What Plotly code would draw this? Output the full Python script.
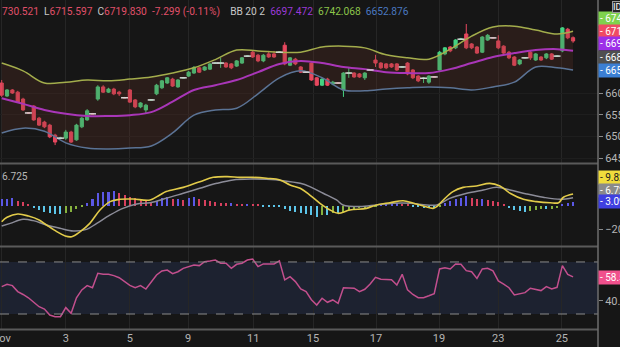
import plotly.graph_objects as go

# ---------------- data ----------------
opens = [6623, 6593, 6607, 6602, 6586, 6554, 6570, 6542, 6533, 6526, 6503, 6496, 6496, 6510, 6492, 6522, 6538, 6552,
         6586, 6614, 6602, 6609, 6602, 6589, 6607, 6584, 6568, 6561, 6584, 6598, 6612, 6623, 6632, 6614, 6635, 6639,
         6646, 6658, 6653, 6655, 6669, 6669, 6669, 6667, 6662, 6669, 6685, 6694, 6687, 6674, 6690, 6690, 6694, 6710,
         6664, 6678, 6660, 6648, 6669, 6635, 6618, 6632, 6621, 6623, 6607, 6646, 6646, 6644, 6635, 6653, 6676, 6669,
         6667, 6667, 6667, 6660, 6669, 6653, 6639, 6634, 6625, 6637, 6653, 6690, 6706, 6704, 6724, 6736, 6713, 6706,
         6694, 6722, 6727, 6720, 6708, 6694, 6683, 6667, 6681, 6694, 6676, 6683, 6681, 6690, 6685, 6697, 6747, 6727.5]
highs = [6630, 6609, 6609, 6605, 6589, 6556, 6572, 6545, 6536, 6529, 6506, 6499, 6515, 6513, 6529, 6545, 6563, 6554,
         6618, 6618, 6612, 6612, 6605, 6591, 6609, 6586, 6579, 6575, 6586, 6621, 6630, 6637, 6635, 6632, 6637, 6651,
         6662, 6660, 6662, 6669, 6671, 6681, 6671, 6669, 6676, 6683, 6687, 6697, 6690, 6690, 6697, 6697, 6696, 6717,
         6683, 6681, 6662, 6650, 6671, 6637, 6635, 6635, 6628, 6625, 6648, 6658, 6648, 6646, 6648, 6655, 6688, 6671,
         6669, 6669, 6669, 6662, 6671, 6655, 6641, 6637, 6641, 6639, 6697, 6706, 6708, 6724, 6727, 6759, 6715, 6708,
         6731, 6736, 6729, 6733, 6710, 6697, 6685, 6678, 6683, 6697, 6692, 6685, 6692, 6692, 6687, 6752, 6750, 6730.521]
lows = [6591, 6591, 6598, 6577, 6559, 6552, 6536, 6524, 6519, 6496, 6480, 6494, 6492, 6485, 6490, 6519, 6536, 6551,
        6582, 6600, 6600, 6595, 6593, 6588, 6577, 6565, 6565, 6552, 6583, 6595, 6609, 6621, 6614, 6612, 6634, 6637,
        6644, 6646, 6651, 6653, 6668, 6658, 6658, 6655, 6660, 6667, 6684, 6681, 6671, 6671, 6681, 6681, 6693, 6664,
        6662, 6664, 6646, 6647, 6628, 6616, 6616, 6616, 6618, 6622, 6591, 6635, 6635, 6635, 6630, 6652, 6660, 6655,
        6655, 6658, 6651, 6659, 6641, 6632, 6625, 6623, 6621, 6636, 6651, 6687, 6694, 6701, 6722, 6701, 6701, 6690,
        6692, 6720, 6726, 6701, 6690, 6678, 6662, 6664, 6680, 6676, 6674, 6674, 6678, 6676, 6684, 6694, 6724, 6715.597]
closes = [6595, 6607, 6600, 6579, 6561, 6554, 6538, 6526, 6522, 6499, 6487, 6496, 6510, 6487, 6526, 6542, 6559, 6552,
          6614, 6602, 6609, 6598, 6598, 6589, 6579, 6568, 6577, 6572, 6584, 6618, 6628, 6635, 6616, 6630, 6635, 6648,
          6658, 6648, 6660, 6667, 6669, 6669, 6660, 6658, 6674, 6681, 6685, 6683, 6674, 6687, 6683, 6683, 6694, 6667,
          6681, 6667, 6648, 6648, 6630, 6618, 6632, 6618, 6625, 6623, 6646, 6646, 6637, 6637, 6646, 6653, 6669, 6658,
          6658, 6660, 6653, 6660, 6644, 6635, 6628, 6634, 6639, 6637, 6694, 6704, 6697, 6722, 6724, 6704, 6704, 6692,
          6729, 6733, 6727, 6704, 6692, 6681, 6664, 6676, 6681, 6681, 6690, 6676, 6690, 6678, 6685, 6750, 6727.129, 6719.830]

band_x = [0, 4, 8, 12, 16, 20, 24, 28, 32, 36, 40, 44, 48, 52, 56, 60, 64, 68, 72, 76, 80, 84, 88, 92, 96, 100, 104, 107]
bb_upper = [6669, 6651, 6623, 6625, 6630, 6628, 6632, 6637, 6646, 6658, 6677, 6699, 6697, 6694, 6694, 6706, 6708, 6704,
            6688, 6681, 6678, 6701, 6731, 6752, 6754, 6745, 6736, 6742.068]
bb_mid = [6588, 6575, 6561, 6552, 6547, 6547, 6549, 6556, 6580, 6607, 6618, 6630, 6648, 6667, 6674, 6669, 6660, 6655,
          6648, 6646, 6646, 6655, 6669, 6683, 6692, 6699, 6701, 6697.472]
bb_lower = [6508, 6519, 6512, 6485, 6473, 6471, 6473, 6478, 6508, 6549, 6561, 6565, 6598, 6635, 6651, 6635, 6607, 6605,
            6609, 6612, 6614, 6612, 6607, 6614, 6625, 6660, 6658, 6652.876]

macd_x = [0, 1, 3, 5, 7, 8.4, 10.3, 11.9, 13.1, 14.7, 16.5, 18.4, 20.3, 22.2, 24.6, 27.8, 29.6, 30.8, 34, 37.1, 39.6,
          42.2, 44.6, 47.1, 49.6, 52.1, 54, 55.9, 57.7, 59.6, 61.5, 63, 65.2, 68.3, 70.2, 72.7, 75.2, 77.1, 79, 80.8,
          81.5, 82.7, 84.5, 86.4, 88.9, 91.4, 93.3, 95.2, 97.7, 100.2, 102.7, 104.3, 105.2, 107]
macd_line = [-13.6, -9.9, -7.1, -8.8, -12.1, -16.4, -22.0, -25.7, -26.3, -22.0, -15.0, -3.7, 3.4, 5.4, 5.6, 4.8, 9.0,
             11.9, 15.5, 20.3, 24.0, 24.6, 24.0, 24.0, 23.2, 21.8, 17.5, 14.7, 9.0, 2.0, -3.7, -6.5, -3.7, -2.3, 0.6,
             2.5, 4.2, 2.0, -0.3, -2.3, -0.8, 4.8, 11.9, 15.5, 16.7, 18.9, 16.7, 10.5, 5.4, 3.4, 2.5, 2.5, 7.1, 9.823]
signal_x = [0, 1.6, 4, 5.9, 8.4, 10.9, 13.4, 15.9, 17.8, 20.3, 22.7, 25.3, 27.8, 30.8, 34, 37.1, 40.3, 43.3, 46.5,
            49.6, 52.7, 55.9, 57.7, 60.2, 62.7, 63.9, 67.1, 70.2, 73.3, 76.5, 79.6, 81.5, 83.9, 87.1, 90.2, 92.7, 95.2,
            98.3, 101.4, 104.6, 107]
signal_line = [-17.2, -15.0, -11.6, -12.7, -16.4, -19.2, -21.5, -20.1, -15.0, -7.9, -2.3, 1.4, 2.5, 6.2, 10.5, 14.7,
               18.9, 21.8, 22.6, 22.3, 21.2, 18.9, 16.1, 10.5, 4.8, 0.6, -0.8, 0.6, 2.0, 2.0, 0.6, 0.6, 6.2, 10.5, 13.3,
               15.5, 13.3, 9.9, 7.1, 5.4, 6.725]
macd_hist = [5.4, 5.4, 6.2, 4.2, 2.8, 1.1, -2.3, -3.7, -5.1, -6.5, -7.3, -7.3, -6.5, -5.1, -3.1, -0.8, 2.5, 5.4, 10.5,
             11.9, 11.9, 12.4, 10.5, 9.0, 7.6, 6.2, 5.4, 4.2, 3.4, 4.2, 6.2, 7.0, 5.4, 5.4, 4.8, 6.2, 7.0, 5.4, 4.8,
             4.2, 3.4, 2.5, 2.0, 2.0, 1.4, 1.1, 1.1, 0.8, 0.6, -0.6, -0.8, -0.8, -0.8, -3.1, -4.2, -5.1, -5.9, -7.3,
             -7.9, -9.3, -7.9, -7.9, -6.5, -6.5, -5.1, -3.7, -3.1, -2.3, -1.7, -1.4, -0.8, 1.1, 1.7, 2.5, 2.5, 1.4,
             1.1, -0.6, -1.1, -1.7, -2.3, -2.3, -0.8, 2.5, 4.2, 5.4, 6.8, 7.9, 6.8, 5.4, 5.6, 4.8, 4.2, 2.8, 1.1,
             -2.3, -3.7, -4.5, -5.1, -4.2, -3.7, -3.1, -3.1, -2.8, -2.3, 1.1, 2.5, 3.098]

rsi = [51.0, 52.8, 51.8, 47.2, 45.0, 42.5, 39.0, 35.6, 33.8, 29.2, 27.9, 27.9, 34.9, 30.5, 42.5, 48.5, 51.8, 50.2,
       61.3, 60.5, 60.5, 59.5, 57.9, 54.9, 52.0, 50.2, 51.8, 49.2, 54.4, 60.0, 63.1, 63.8, 61.0, 62.5, 65.1, 66.5,
       67.7, 67.2, 70.2, 70.8, 71.5, 69.0, 69.0, 65.1, 68.2, 69.0, 71.5, 72.3, 66.4, 68.5, 68.5, 68.5, 70.8, 56.2,
       58.7, 54.9, 49.2, 47.2, 41.0, 36.9, 42.1, 39.0, 40.8, 38.2, 50.2, 50.0, 49.8, 47.2, 49.0, 53.0, 58.2, 56.7,
       56.5, 56.4, 52.3, 60.5, 48.5, 45.0, 42.5, 42.5, 44.0, 45.6, 64.6, 65.6, 64.6, 68.5, 68.2, 63.3, 62.5, 57.4,
       64.6, 65.1, 63.1, 55.4, 53.0, 50.2, 44.6, 45.5, 46.4, 49.8, 49.0, 48.0, 51.0, 49.2, 50.5, 67.2, 60.5, 58.5]

day_ticks = [-0.1, 12.0, 24.0, 34.9, 47.1, 58.3, 70.1, 81.9, 93.0, 104.9]
day_labels = ["Nov", "3", "5", "9", "11", "15", "17", "19", "23", "25"]
price_ticks = [6450, 6500, 6550, 6600]

# ---------------- styling ----------------
BG = "#161616"
UP = "#45d382"
DN = "#e8485f"
TXT = "#b4b4b4"
GRID = "#262626"
FONT = "Roboto, Arial"
W, H_PLOT = 598.0, 330.0

idx = list(range(len(opens)))
fig = go.Figure()

# Bollinger band fill + lines
fig.add_trace(go.Scatter(x=band_x, y=bb_upper, mode="lines", line=dict(color="#a3ad4c", width=1.5, shape="spline"),
                         xaxis="x", yaxis="y", hoverinfo="skip"))
fig.add_trace(go.Scatter(x=band_x, y=bb_lower, mode="lines", line=dict(color="#5b7395", width=1.5, shape="spline"),
                         fill="tonexty", fillcolor="rgba(115,55,40,0.22)", xaxis="x", yaxis="y", hoverinfo="skip"))
fig.add_trace(go.Scatter(x=band_x, y=bb_mid, mode="lines", line=dict(color="#a936b8", width=2, shape="spline"),
                         xaxis="x", yaxis="y", hoverinfo="skip"))

fig.add_trace(go.Candlestick(x=idx, open=opens, high=highs, low=lows, close=closes,
                             increasing=dict(line=dict(color=UP, width=1), fillcolor=UP),
                             decreasing=dict(line=dict(color=DN, width=1), fillcolor=DN),
                             whiskerwidth=0, xaxis="x", yaxis="y"))
doji_x = [i for i in idx if opens[i] == closes[i]]
doji_y = [opens[i] for i in doji_x]
fig.add_trace(go.Scatter(x=doji_x, y=doji_y, mode="markers",
                         marker=dict(symbol="line-ew", size=5, line=dict(color="#d6d6d6", width=1.5)),
                         xaxis="x", yaxis="y", hoverinfo="skip"))

# MACD
hist_colors = []
for i, h in enumerate(macd_hist):
    prev = macd_hist[i - 1] if i > 0 else h
    if h >= 0:
        hist_colors.append("#5b58e6" if h >= prev else "#d8405e")
    else:
        hist_colors.append("#5cc6ea" if h <= prev else "#86b23e")
fig.add_trace(go.Bar(x=idx, y=macd_hist, marker=dict(color=hist_colors, line=dict(width=0)), width=0.38,
                     xaxis="x2", yaxis="y2", hoverinfo="skip"))
fig.add_trace(go.Scatter(x=signal_x, y=signal_line, mode="lines", line=dict(color="#8c8c98", width=1.5, shape="spline"),
                         xaxis="x2", yaxis="y2", hoverinfo="skip"))
fig.add_trace(go.Scatter(x=macd_x, y=macd_line, mode="lines", line=dict(color="#e2cb4a", width=1.6, shape="spline"),
                         xaxis="x2", yaxis="y2", hoverinfo="skip"))

# RSI
fig.add_trace(go.Scatter(x=idx, y=rsi, mode="lines", line=dict(color="#c24f8d", width=1.5),
                         xaxis="x3", yaxis="y3", hoverinfo="skip"))


def py(p):
    return 1 - p / H_PLOT


xr = [-0.32, 111.67]
xcommon = dict(range=xr, tickvals=day_ticks, ticktext=day_labels, showgrid=True, gridcolor=GRID, gridwidth=1,
               zeroline=False, showline=False, ticks="", automargin=False, fixedrange=True)
ycommon = dict(side="right", zeroline=False, automargin=False, ticks="outside", ticklen=4, tickcolor="#8a8a8a",
               tickfont=dict(family=FONT, size=11, color=TXT), showline=False, fixedrange=True)

fig.update_layout(
    template="none",
    width=620, height=347,
    margin=dict(l=0, r=22, t=0, b=17, pad=0),
    paper_bgcolor=BG, plot_bgcolor=BG,
    showlegend=False,
    bargap=0, boxgap=0.15,
    xaxis=dict(**xcommon, anchor="y", showticklabels=False, rangeslider=dict(visible=False)),
    xaxis2=dict(**xcommon, anchor="y2", showticklabels=False),
    xaxis3=dict(**xcommon, anchor="y3", showticklabels=True, ticklabeloverflow="allow",
                tickfont=dict(family=FONT, size=11, color=TXT)),
    yaxis=dict(**ycommon, domain=[py(163), 1], range=[6438.7, 6814.3], tickvals=price_ticks,
               showgrid=True, gridcolor="#1e1e1e", anchor="x"),
    yaxis2=dict(**ycommon, domain=[py(246), py(164)], range=[-34.2, 35.3], tickvals=[-20],
                showgrid=False, anchor="x2"),
    yaxis3=dict(**ycommon, domain=[0, py(247)], range=[17.7, 81.5], tickvals=[40],
                ticktext=["40.00"], showgrid=False, anchor="x3"),
)

shapes = []
# RSI band
shapes.append(dict(type="rect", xref="paper", x0=0, x1=1, yref="y3", y0=30, y1=70, fillcolor="#1d2230",
                   line=dict(width=0), layer="below"))
for lv in (30, 70):
    shapes.append(dict(type="line", xref="paper", x0=0, x1=1, yref="y3", y0=lv, y1=lv,
                       line=dict(color="#8a8a8a", width=1, dash="dash"), layer="above"))
# pane separators and axis frame
for p in (163.5, 246.5):
    shapes.append(dict(type="line", xref="paper", x0=0, x1=1, yref="paper", y0=py(p), y1=py(p),
                       line=dict(color="#5a5a5a", width=2)))
shapes.append(dict(type="line", xref="paper", x0=0, x1=1, yref="paper", y0=py(329.5), y1=py(329.5),
                   line=dict(color="#5a5a5a", width=2)))
shapes.append(dict(type="line", xref="paper", x0=1, x1=1, yref="paper", y0=-0.06, y1=1,
                   line=dict(color="#6e6e6e", width=1.5)))
fig.update_layout(shapes=shapes)

ann = []
# top legend
S = "&nbsp;"
G = S * 2
legend_html = ('<span style="color:#e0506a">730.521</span>' + G + '<span style="color:#c8c8c8">L</span>'
               '<span style="color:#e0506a">6715.597</span>' + G + '<span style="color:#c8c8c8">C</span>'
               '<span style="color:#e0506a">6719.830</span>' + G + '<span style="color:#e0506a">-7.299 (-0.11%)</span>'
               + S * 4 + '<span style="color:#c8c8c8">BB 20 2</span>' + G + '<span style="color:#9b3ad6">6697.472</span>'
               + G + '<span style="color:#8cc44a">6742.068</span>' + G + '<span style="color:#4a78c0">6652.876</span>')
ann.append(dict(xref="paper", yref="paper", x=0, y=py(12), xanchor="left", yanchor="middle", showarrow=False,
                text=legend_html, font=dict(family=FONT, size=10.2)))
ann.append(dict(xref="paper", yref="paper", x=0, y=py(176), xanchor="left", yanchor="middle", showarrow=False,
                text="6.725", font=dict(family=FONT, size=10.2, color="#b8b8b8")))

# right side value labels
right_labels = [
    ("6742.068", "#7fd34d", 18), ("6719.830", "#f04a64", 32), ("6697.472", "#9d2ee8", 44),
    ("6684.000", "#4f4f4f", 57), ("6652.876", "#3b7fd4", 70),
    ("9.823", "#f0dc3c", 177), ("6.725", "#8a8a8a", 191), ("3.098", "#3f3fe0", 202),
    ("58.54", "#f0508c", 277),
]
for txt, col, p in right_labels:
    fc = "#202020" if col == "#f0dc3c" else "#ffffff"
    ann.append(dict(xref="paper", yref="paper", x=1, y=py(p), xanchor="left", yanchor="middle", showarrow=False,
                    text="- " + txt, bgcolor=col, borderpad=1, font=dict(family=FONT, size=10, color=fc)))
ann.append(dict(xref="paper", yref="paper", x=612 / W, y=py(7), xanchor="left", yanchor="middle", showarrow=False,
                text="ID", bgcolor="#2a2a2a", bordercolor="#9a9a9a", borderwidth=1, borderpad=0,
                font=dict(family=FONT, size=9, color="#ffffff")))
fig.update_layout(annotations=ann)

fig.write_html("out.html")
